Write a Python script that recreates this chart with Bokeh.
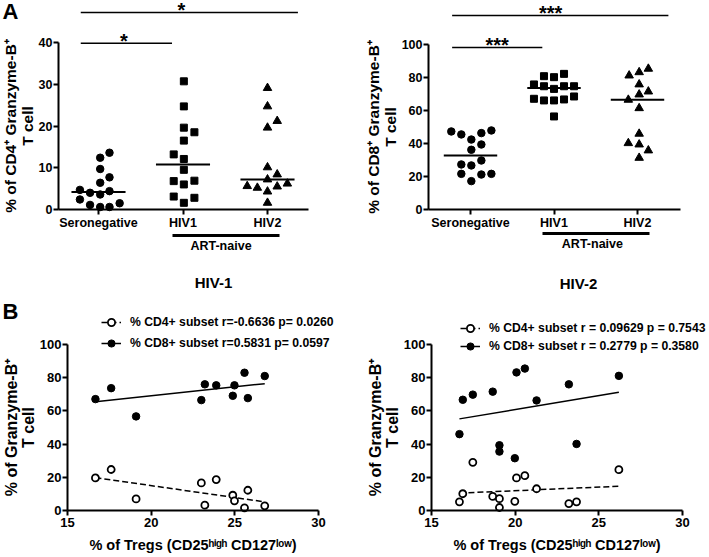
from bokeh.plotting import figure
from bokeh.models import FixedTicker, LinearAxis, Range1d, Legend, LegendItem
from bokeh.layouts import row, column
from bokeh.embed import file_html
from bokeh.resources import INLINE
from bokeh.core.properties import value

FONT = "Liberation Sans"

# ---------------- Panel A data ----------------
groups = ["Seronegative", "HIV1", "HIV2"]
group_pos = [0, 1, 2]

cd4_sero = [13.6, 12.4, 9.7, 7.7, 6.4, 4.7, 4.0, 3.6, 4.4, 2.4, 1.1, 0.6, 0.6, 1.5]
cd4_sero_dx = [0.13, 0.02, 0.02, 0.13, 0.02, -0.22, -0.10, 0.02, 0.13, -0.22, -0.10, 0.02, 0.13, 0.25]
cd4_hiv1 = [30.7, 24.7, 19.6, 18.5, 16.5, 13.2, 12.1, 9.5, 6.8, 6.9, 6.0, 3.1, 2.8, 1.6]
cd4_hiv1_dx = [0.01, 0.01, 0.01, 0.135, 0.01, -0.11, 0.01, 0.01, -0.11, 0.135, 0.01, -0.11, 0.135, 0.01]
cd4_hiv2 = [29.1, 24.7, 21.2, 19.6, 10.1, 8.4, 7.2, 5.6, 5.2, 5.5, 6.2, 4.3, 1.6]
cd4_hiv2_dx = [0, 0, 0.115, 0, 0, 0.115, 0, -0.24, -0.12, 0.115, 0.235, 0, 0]
cd4_median = [4.2, 10.8, 7.2]
cd4_ticks = [0, 10, 20, 30, 40]
cd4_sig_x0 = [-0.21, -0.21]
cd4_sig_x1 = [2.36, 0.87]
cd4_sig_y = [47.2, 39.8]
cd4_star_x = [0.98, 0.30]
cd4_star_text = ["*", "*"]

cd8_sero = [47.3, 45.5, 46.3, 47.9, 42.4, 39.4, 36.2, 27.3, 26.7, 29.7, 21.6, 21.2, 21.6, 17.2]
cd8_sero_dx = [-0.23, -0.11, 0.13, 0.25, 0.01, 0.13, 0.01, -0.11, 0.01, 0.13, -0.11, 0.13, 0.25, 0.01]
cd8_hiv1 = [75.8, 80.8, 80.2, 82.2, 74.7, 73.1, 74.7, 74.7, 67.1, 66.1, 66.1, 66.7, 68.5, 56.4]
cd8_hiv1_dx = [-0.24, -0.12, 0, 0.12, -0.12, 0, 0.12, 0.24, -0.24, -0.12, 0, 0.12, 0.24, 0]
cd8_hiv2 = [81.2, 83.2, 85.3, 75.8, 71.5, 69.7, 66.5, 61.4, 45.9, 40.2, 39.4, 35.8, 31.3]
cd8_hiv2_dx = [-0.10, 0.02, 0.13, 0.02, 0.13, 0.02, -0.11, 0.02, 0.02, -0.11, 0.02, 0.13, 0.02]
cd8_median = [32.7, 73.7, 66.5]
cd8_ticks = [0, 20, 40, 60, 80, 100]
cd8_sig_x0 = [-0.22, -0.22]
cd8_sig_x1 = [2.37, 0.86]
cd8_sig_y = [117.6, 98.2]
cd8_star_x = [0.96, 0.32]
cd8_star_text = ["***", "***"]

# ---------------- Panel B data ----------------
tregs_hiv1 = [16.67, 17.61, 19.1, 23.0, 23.21, 23.89, 24.88, 24.98, 25.58, 25.78, 26.79]
cd8_hiv1_b = [67.1, 73.7, 56.7, 66.5, 76.0, 75.4, 69.1, 75.4, 83.0, 67.7, 81.0]
cd4_hiv1_b = [19.6, 24.7, 7.0, 16.6, 3.2, 18.6, 9.2, 5.8, 1.6, 12.2, 2.8]
fit_hiv1_x = [16.67, 26.79]
fit_cd8_hiv1_y = [65.5, 76.4]
fit_cd4_hiv1_y = [19.8, 5.2]
leg_hiv1 = ["% CD4+ subset r=-0.6636 p= 0.0260", "% CD8+ subset r=0.5831 p= 0.0597"]

tregs_hiv2 = [16.67, 16.87, 17.47, 18.66, 19.06, 19.06, 19.98, 20.08, 20.58, 21.28, 23.21, 23.67, 26.2]
cd8_hiv2_b = [46.0, 66.7, 69.8, 71.6, 39.3, 35.5, 31.5, 83.2, 85.5, 66.3, 76.0, 40.1, 81.1]
cd4_hiv2_b = [5.2, 10.1, 29.0, 8.5, 7.1, 1.8, 5.5, 19.6, 21.0, 13.1, 4.2, 5.2, 24.6]
fit_hiv2_x = [16.67, 26.2]
fit_cd8_hiv2_y = [55.2, 71.2]
fit_cd4_hiv2_y = [10.5, 14.6]
leg_hiv2 = ["% CD4+ subset r = 0.09629 p = 0.7543", "% CD8+ subset r = 0.2779 p = 0.3580"]

b_yticks = [0, 20, 40, 60, 80, 100]
b_xticks = [15, 20, 25, 30]


# ---------------- layout helpers (canvas pixel -> data) ----------------
def xd(px, a):
    p0, v0, s = a
    return v0 + (px - p0) / s


def yd(py, a):
    p0, v0, s = a
    return v0 + (p0 - py) / s


def style_axis(ax, size):
    ax.axis_line_color = "black"
    ax.axis_line_width = 2
    ax.major_tick_line_color = "black"
    ax.major_tick_line_width = 2
    ax.major_tick_out = 5
    ax.major_tick_in = 0
    ax.minor_tick_line_color = None
    ax.major_label_text_font = FONT
    ax.major_label_text_font_style = "bold"
    ax.major_label_text_font_size = size
    ax.major_label_text_color = "black"
    ax.major_label_standoff = 1
    ax.axis_label_text_font = FONT
    ax.axis_label_text_font_style = "bold"
    ax.axis_label_text_color = "black"


def base_fig(box, ax_x, ax_y):
    left, top, w, h = box
    p = figure(width=w, height=h,
               x_range=Range1d(xd(left, ax_x), xd(left + w, ax_x)),
               y_range=Range1d(yd(top + h, ax_y), yd(top, ax_y)),
               x_axis_type=None, y_axis_type=None, title=None,
               output_backend="svg", toolbar_location=None, min_border=0,
               min_border_left=0, min_border_right=0, min_border_top=0, min_border_bottom=0)
    p.outline_line_color = None
    p.background_fill_color = "white"
    p.border_fill_color = "white"
    return p


def bold_text(p, x, y, text, size, align="left", baseline="top"):
    p.text(x=x, y=y, text=text, text_font=value(FONT), text_font_size=size,
           text_font_style="bold", text_align=align, text_baseline=baseline,
           text_color="black")


def panel_a(box, ax_x, ax_y, yaxis_px, xend_px, art_px, ticks, ylabel, series, medians, sig, art):
    p = base_fig(box, ax_x, ax_y)
    x_axis_at = xd(yaxis_px, ax_x)
    yax = LinearAxis(ticker=FixedTicker(ticks=ticks), bounds=(ticks[0], ticks[-1]),
                     fixed_location=x_axis_at, axis_label=ylabel)
    style_axis(yax, "12.5px")
    yax.axis_label_text_font_size = "15.5px"
    yax.axis_label_text_line_height = 1.0
    yax.axis_label_standoff = 0
    p.add_layout(yax, "left")
    xax = LinearAxis(ticker=FixedTicker(ticks=group_pos), fixed_location=0,
                     bounds=(x_axis_at, xd(xend_px, ax_x)),
                     major_label_overrides={i: g for i, g in zip(group_pos, groups)})
    style_axis(xax, "12.5px")
    p.add_layout(xax, "below")
    lo, hi, pos = art
    aax = LinearAxis(ticker=FixedTicker(ticks=[pos]), bounds=(lo, hi),
                     fixed_location=yd(art_px, ax_y),
                     major_label_overrides={pos: "ART-naive"})
    style_axis(aax, "12.5px")
    aax.axis_line_width = 3
    aax.major_tick_out = 0
    aax.major_label_standoff = 3
    p.add_layout(aax, "below")

    markers = ["circle", "square", "triangle"]
    sizes = [7.5, 7, 8.5]
    for g, (vals, dx) in enumerate(series):
        p.scatter(x=[group_pos[g] + d for d in dx], y=vals, marker=markers[g],
                  size=sizes[g], fill_color="black", line_color="black")
    p.segment(x0=[g - 0.32 for g in group_pos], x1=[g + 0.32 for g in group_pos],
              y0=medians, y1=medians, line_color="black", line_width=2)
    x0, x1, ys, sx, st = sig
    p.segment(x0=x0, x1=x1, y0=ys, y1=ys, line_color="black", line_width=1.5)
    p.text(x=sx, y=ys, text=st, text_font=value(FONT), text_font_size="20px",
           text_font_style="bold", text_align="center", text_baseline="alphabetic",
           y_offset=-2, text_color="black")
    return p


# Panel A (left: CD4, right: CD8)
A1_BOX = (0, 0, 355, 262)
A1_X = (98, 0, 84.5)
A1_Y = (209, 0, 4.175)
p1 = panel_a(A1_BOX, A1_X, A1_Y, 58, 308, 235, cd4_ticks,
             "% of CD4\u207a Granzyme-B\u207a\nT cell",
             [(cd4_sero, cd4_sero_dx), (cd4_hiv1, cd4_hiv1_dx), (cd4_hiv2, cd4_hiv2_dx)],
             cd4_median, (cd4_sig_x0, cd4_sig_x1, cd4_sig_y, cd4_star_x, cd4_star_text),
             (0.88, 2.14, 1.45))
bold_text(p1, [xd(2, A1_X)], [yd(-2, A1_Y)], ["A"], "22px")

A2_BOX = (355, 0, 353, 262)
A2_X = (470, 0, 83.5)
A2_Y = (209, 0, 1.65)
p2 = panel_a(A2_BOX, A2_X, A2_Y, 428, 680, 233, cd8_ticks,
             "% of CD8\u207a Granzyme-B\u207a\nT cell",
             [(cd8_sero, cd8_sero_dx), (cd8_hiv1, cd8_hiv1_dx), (cd8_hiv2, cd8_hiv2_dx)],
             cd8_median, (cd8_sig_x0, cd8_sig_x1, cd8_sig_y, cd8_star_x, cd8_star_text),
             (0.86, 2.14, 1.46))


def panel_b(box, ax_x, ax_y, title, title_px, tx, cd8, cd4, fx, f8, f4, labels, leg_px, leg_spacing):
    p = base_fig(box, ax_x, ax_y)
    left, top, w, h = box
    yax = LinearAxis(ticker=FixedTicker(ticks=b_yticks), bounds=(0, 100), fixed_location=15,
                     axis_label="% of Granzyme-B\u207a\nT cell")
    style_axis(yax, "13px")
    yax.axis_label_text_font_size = "16px"
    yax.axis_label_text_line_height = 1.0
    yax.axis_label_standoff = 0
    p.add_layout(yax, "left")
    xax = LinearAxis(ticker=FixedTicker(ticks=b_xticks), bounds=(15, 30), fixed_location=0,
                     axis_label="% of Tregs (CD25\u02b0\u2071\u1d4d\u02b0 CD127\u02e1\u1d52\u02b7)")
    style_axis(xax, "13px")
    xax.major_label_standoff = 2
    xax.axis_label_text_font_size = "14.5px"
    xax.axis_label_standoff = 7
    p.add_layout(xax, "below")

    r4l = p.line(x=fx, y=f4, line_color="black", line_width=1.5, line_dash="6 3")
    r8l = p.line(x=fx, y=f8, line_color="black", line_width=1.5)
    r4 = p.scatter(x=tx, y=cd4, marker="circle", size=7, fill_color="white",
                   line_color="black", line_width=1.8)
    r8 = p.scatter(x=tx, y=cd8, marker="circle", size=7.5, fill_color="black",
                   line_color="black")
    lx, lbottom = leg_px
    leg = Legend(items=[LegendItem(label=labels[0], renderers=[r4l, r4]),
                        LegendItem(label=labels[1], renderers=[r8l, r8])],
                 location=(lx - left, top + h - lbottom), glyph_width=20, glyph_height=18,
                 label_height=18, spacing=leg_spacing, padding=0, margin=0, label_standoff=9,
                 border_line_color=None, background_fill_alpha=0,
                 label_text_font=FONT, label_text_font_style="bold",
                 label_text_font_size="12.2px", label_text_color="black")
    p.add_layout(leg)
    tx_px, ty_px = title_px
    bold_text(p, [xd(tx_px, ax_x)], [yd(ty_px, ax_y)], [title], "15px",
              align="center", baseline="middle")
    return p


B1_BOX = (0, 262, 355, 294)
B1_X = (67, 15, 16.73)
B_Y = (510, 0, 1.66)
p3 = panel_b(B1_BOX, B1_X, B_Y, "HIV-1", (213, 282), tregs_hiv1, cd8_hiv1_b, cd4_hiv1_b,
             fit_hiv1_x, fit_cd8_hiv1_y, fit_cd4_hiv1_y, leg_hiv1, (101, 352), 3)
bold_text(p3, [xd(2, B1_X)], [yd(298, B_Y)], ["B"], "22px")

B2_BOX = (355, 262, 353, 294)
B2_X = (431, 15, 16.73)
p4 = panel_b(B2_BOX, B2_X, B_Y, "HIV-2", (578, 283), tregs_hiv2, cd8_hiv2_b, cd4_hiv2_b,
             fit_hiv2_x, fit_cd8_hiv2_y, fit_cd4_hiv2_y, leg_hiv2, (460, 355), 0)

layout = column(row(p1, p2), row(p3, p4))
open("out.html", "w").write(file_html(layout, INLINE))
